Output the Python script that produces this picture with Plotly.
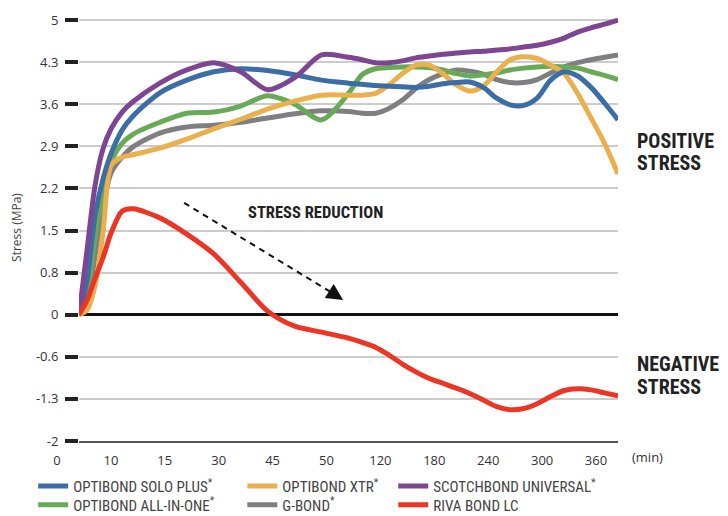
import plotly.graph_objects as go

# x positions in tick-index units (tick k = X_LABELS[k])
X_LABELS = ["0", "10", "15", "30", "45", "50", "120", "180", "240", "300", "360"]
X_IDX = [0, 0.15, 0.3, 0.45, 0.6, 0.8, 1.0, 1.5, 2, 2.5, 3, 3.5, 4, 4.5,
         5, 5.25, 5.5, 5.75, 6, 6.25, 6.5, 6.75, 7, 7.25, 7.5, 7.75, 8,
         8.25, 8.5, 8.75, 9, 9.25, 9.5, 9.75, 10]

Y_TICKVALS = [4.9, 4.2, 3.5, 2.8, 2.1, 1.4, 0.7, 0, -0.7, -1.4, -2.1]
Y_TICKTEXT = ["5", "4.3", "3.6", "2.9", "2.2", "1.5", "0.8", "0", "-0.6", "-1.3", "-2"]

solo_plus = [0, 0.58, 1.66, 2.27, 2.69, 3.07, 3.30, 3.69, 3.90, 4.04, 4.09, 4.06, 3.99, 3.90,
             3.85, 3.83, 3.81, 3.80, 3.79, 3.78, 3.80, 3.84, 3.86, 3.87, 3.78, 3.60, 3.49,
             3.48, 3.60, 3.90, 4.04, 3.97, 3.78, 3.52, 3.24]
all_in_one = [0, 0.33, 1.32, 2.05, 2.55, 2.85, 3.00, 3.20, 3.35, 3.37, 3.47, 3.64, 3.50, 3.24,
              3.68, 3.99, 4.09, 4.11, 4.12, 4.12, 4.11, 4.07, 4.01, 3.97, 3.99, 4.02, 4.07,
              4.10, 4.12, 4.13, 4.12, 4.10, 4.04, 3.98, 3.91]
xtr = [0, 0.08, 0.49, 1.41, 2.49, 2.62, 2.66, 2.77, 2.92, 3.09, 3.25, 3.42, 3.55, 3.65,
       3.65, 3.65, 3.68, 3.82, 4.01, 4.15, 4.15, 4.01, 3.82, 3.72, 3.80, 4.04, 4.24,
       4.29, 4.26, 4.15, 4.01, 3.68, 3.27, 2.85, 2.34]
g_bond = [0, 0.16, 0.99, 1.82, 2.37, 2.62, 2.79, 3.02, 3.12, 3.15, 3.20, 3.27, 3.34, 3.39,
          3.38, 3.35, 3.35, 3.43, 3.57, 3.76, 3.91, 4.01, 4.07, 4.05, 4.00, 3.91, 3.86,
          3.86, 3.91, 4.02, 4.12, 4.19, 4.24, 4.28, 4.32]
scotchbond = [0, 1.08, 2.16, 2.77, 3.10, 3.37, 3.54, 3.85, 4.07, 4.19, 4.04, 3.74, 3.94, 4.32,
              4.28, 4.24, 4.19, 4.19, 4.22, 4.27, 4.30, 4.33, 4.35, 4.37, 4.38, 4.40, 4.42,
              4.45, 4.48, 4.53, 4.60, 4.70, 4.77, 4.83, 4.90]
riva = [0, 0.24, 0.61, 0.96, 1.37, 1.72, 1.76, 1.61, 1.34, 1.01, 0.54, 0.06, -0.19, -0.29,
        -0.39, -0.46, -0.54, -0.67, -0.82, -0.95, -1.06, -1.14, -1.22, -1.31, -1.42, -1.53,
        -1.58, -1.56, -1.48, -1.36, -1.26, -1.23, -1.25, -1.30, -1.35]

# name, values, color, legend id, legend column, legend row
SERIES = [
    ("G-BOND<sup>*</sup>", g_bond, "#7f7f82", "legend5", 1, 1),
    ("OPTIBOND ALL-IN-ONE<sup>*</sup>", all_in_one, "#69aa57", "legend4", 0, 1),
    ("OPTIBOND XTR<sup>*</sup>", xtr, "#ebb04e", "legend2", 1, 0),
    ("OPTIBOND SOLO PLUS<sup>*</sup>", solo_plus, "#3b6da6", "legend", 0, 0),
    ("SCOTCHBOND UNIVERSAL<sup>*</sup>", scotchbond, "#7d4592", "legend3", 2, 0),
    ("RIVA BOND LC", riva, "#ec3525", "legend6", 2, 1),
]
LEG_COL_X = [-0.085, 0.303, 0.583]
LEG_ROW_Y = [-0.106, -0.150]

COND = "Roboto Condensed, Roboto, sans-serif"

fig = go.Figure()
legends = {}
for name, vals, color, leg, col, row in SERIES:
    fig.add_trace(go.Scatter(
        x=X_IDX, y=vals, name=name, mode="lines", showlegend=True,
        line=dict(color=color, width=5, shape="spline", smoothing=0.8),
        legend=leg,
    ))
    legends[leg] = dict(x=LEG_COL_X[col], y=LEG_ROW_Y[row], xanchor="left",
                        yanchor="middle", font=dict(family=COND, size=15, color="#444"),
                        itemwidth=30, bgcolor="rgba(0,0,0,0)", orientation="v",
                        visible=True)

fig.update_layout(
    width=728, height=516, showlegend=True,
    margin=dict(l=79, r=110, t=14, b=75, autoexpand=False),
    plot_bgcolor="white", paper_bgcolor="white",
    font=dict(family="Open Sans, sans-serif", color="#333"),
    xaxis=dict(range=[0, 10], tickmode="array", tickvals=list(range(len(X_LABELS))),
               ticktext=X_LABELS, showgrid=False, zeroline=False,
               showline=True, linecolor="#555", linewidth=2,
               ticks="", ticklabelshift=-22, ticklabelstandoff=6,
               tickfont=dict(size=13, color="#333")),
    yaxis=dict(range=[-2.1, 5.0], tickmode="array", tickvals=Y_TICKVALS,
               ticktext=Y_TICKTEXT, showgrid=True, gridcolor="#cccccc", gridwidth=1.5,
               zeroline=True, zerolinecolor="#111", zerolinewidth=2.5,
               ticks="outside", ticklen=13, tickwidth=4, tickcolor="#222",
               ticklabelstandoff=4, showline=False,
               tickfont=dict(size=13, color="#333"),
               title=dict(text="Stress (MPa)", standoff=11,
                          font=dict(size=12, color="#444"))),
    **legends,
)

# dashed arrow for "stress reduction"
fig.add_shape(type="line", xref="x", yref="y", x0=1.95, y0=1.86, x1=4.72, y1=0.35,
              line=dict(color="#111", width=2, dash="6px,5px"))
fig.add_annotation(x=4.90, y=0.245, ax=4.70, ay=0.36, xref="x", yref="y",
                   axref="x", ayref="y", text="", showarrow=True,
                   arrowhead=2, arrowsize=2.2, arrowwidth=1.5, arrowcolor="#111")

fig.add_annotation(x=4.38, y=1.70, xref="x", yref="y", text="<b>STRESS REDUCTION</b>",
                   showarrow=False, font=dict(family=COND, size=16.5, color="#222"))

SIDE_LABELS = [("POSITIVE", 2.89), ("STRESS", 2.52), ("NEGATIVE", -0.82), ("STRESS", -1.20)]
for txt, yv in SIDE_LABELS:
    fig.add_annotation(x=1, y=yv, xref="paper", yref="y", xanchor="left", xshift=17,
                       text=f"<b>{txt}</b>", showarrow=False, align="left",
                       font=dict(family=COND, size=20, color="#222"))

fig.add_annotation(x=1, y=0, xref="paper", yref="paper", xanchor="left", yanchor="middle",
                   xshift=12, yshift=-16, text="(min)", showarrow=False,
                   font=dict(size=13, color="#333"))

fig.write_html("out.html", config={"displayModeBar": False},
               post_script="document.body.style.margin='0';")
